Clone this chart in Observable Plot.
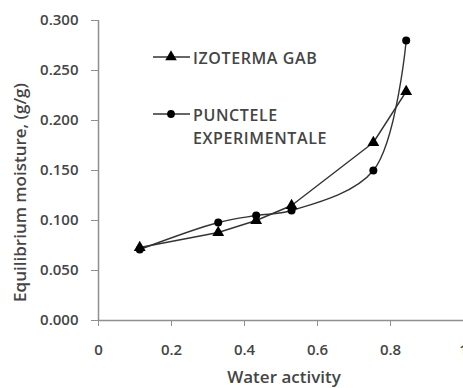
<!DOCTYPE html>
<html>
<head>
<meta charset="utf-8">
<script src="https://cdn.jsdelivr.net/npm/d3@7"></script>
<script src="https://cdn.jsdelivr.net/npm/@observablehq/plot@0.6"></script>
<style>
  html, body { margin: 0; padding: 0; background: #fff; }
  #wrap { position: relative; width: 463px; height: 388px; overflow: hidden; font-family: "Open Sans", sans-serif; }
  #legend { position: absolute; left: 0; top: 0; width: 463px; height: 388px; pointer-events: none; }
</style>
</head>
<body>
<div id="wrap"></div>
<script>
// Data
const waterActivity = [0.113, 0.328, 0.432, 0.529, 0.753, 0.843];
const gabMoisture = [0.073, 0.088, 0.100, 0.115, 0.178, 0.229];
const expMoisture = [0.071, 0.098, 0.105, 0.110, 0.150, 0.280];
const xTicks = [0, 0.2, 0.4, 0.6, 0.8, 1];
const yTicks = [0, 0.05, 0.10, 0.15, 0.20, 0.25, 0.30];
const seriesNames = ["IZOTERMA GAB", "PUNCTELE", "EXPERIMENTALE"];
const xTitle = "Water activity";
const yTitle = "Equilibrium moisture, (g/g)";

const gab = waterActivity.map((x, i) => ({x, y: gabMoisture[i]}));
const exp = waterActivity.map((x, i) => ({x, y: expMoisture[i]}));

const textColor = "#454545";
const axisColor = "#8f8f8f";
const lineColor = "#333333";

const chart = Plot.plot({
  width: 463,
  height: 388,
  marginLeft: 98,
  marginRight: 0,
  marginTop: 20,
  marginBottom: 68,
  style: {fontFamily: "Open Sans, sans-serif", fontSize: "15px", color: textColor, background: "#fff", overflow: "visible"},
  x: {domain: [0, 1]},
  y: {domain: [0, 0.3]},
  marks: [
    Plot.axisX(xTicks, {tickSize: 6, tickPadding: 18, stroke: axisColor, fill: textColor, fontSize: 15, fontWeight: 600, letterSpacing: "1px",
      tickFormat: d => (d === 0 || d === 1) ? String(d) : d3.format(".1f")(d), label: null}),
    Plot.axisY(yTicks, {tickSize: 7, tickPadding: 13, stroke: axisColor, fill: textColor, fontSize: 15, fontWeight: 600, letterSpacing: "1px",
      tickFormat: d3.format(".3f"), label: null}),
    Plot.ruleX([0], {stroke: axisColor, strokeWidth: 1.5}),
    Plot.ruleY([0], {stroke: axisColor, strokeWidth: 1.5}),
    Plot.line(gab, {x: "x", y: "y", stroke: lineColor, strokeWidth: 1.4}),
    Plot.line(exp, {x: "x", y: "y", stroke: lineColor, strokeWidth: 1.4, curve: "catmull-rom"}),
    Plot.dot(gab, {x: "x", y: "y", symbol: "triangle", r: 4.4, fill: "#000", stroke: "none"}),
    Plot.dot(exp, {x: "x", y: "y", symbol: "circle", r: 4, fill: "#000", stroke: "none"}),
    Plot.text([xTitle], {frameAnchor: "bottom", lineAnchor: "middle", textAnchor: "middle", dx: 3, dy: 57,
      fill: textColor, fontSize: 17, fontWeight: 600, letterSpacing: "0.4px"}),
    Plot.text([yTitle], {frameAnchor: "left", textAnchor: "middle", lineAnchor: "middle", dx: -78, dy: 22, rotate: -90,
      fill: textColor, fontSize: 17, fontWeight: 600, letterSpacing: "1.4px"})
  ]
});
document.getElementById("wrap").appendChild(chart);

// Legend overlay (inside the plot area, as in the reference)
const leg = d3.select("#wrap").append("svg").attr("id", "legend").attr("width", 463).attr("height", 388);
const items = [
  {name: [seriesNames[0]], y: 57, sym: d3.symbolTriangle, size: 58},
  {name: [seriesNames[1], seriesNames[2]], y: 114, sym: d3.symbolCircle, size: 48}
];
items.forEach(it => {
  leg.append("line").attr("x1", 153).attr("x2", 190).attr("y1", it.y).attr("y2", it.y)
    .attr("stroke", lineColor).attr("stroke-width", 1.4);
  leg.append("path").attr("d", d3.symbol(it.sym, it.size)()).attr("transform", `translate(171,${it.y})`).attr("fill", "#000");
  it.name.forEach((n, j) => {
    leg.append("text").attr("x", 193).attr("y", it.y + 1.5 + j * 23).attr("dy", "0.36em")
      .attr("fill", textColor).attr("font-size", 16).attr("font-weight", 600).attr("letter-spacing", "0.6px")
      .attr("font-family", "Open Sans, sans-serif").text(n);
  });
});
</script>
</body>
</html>
